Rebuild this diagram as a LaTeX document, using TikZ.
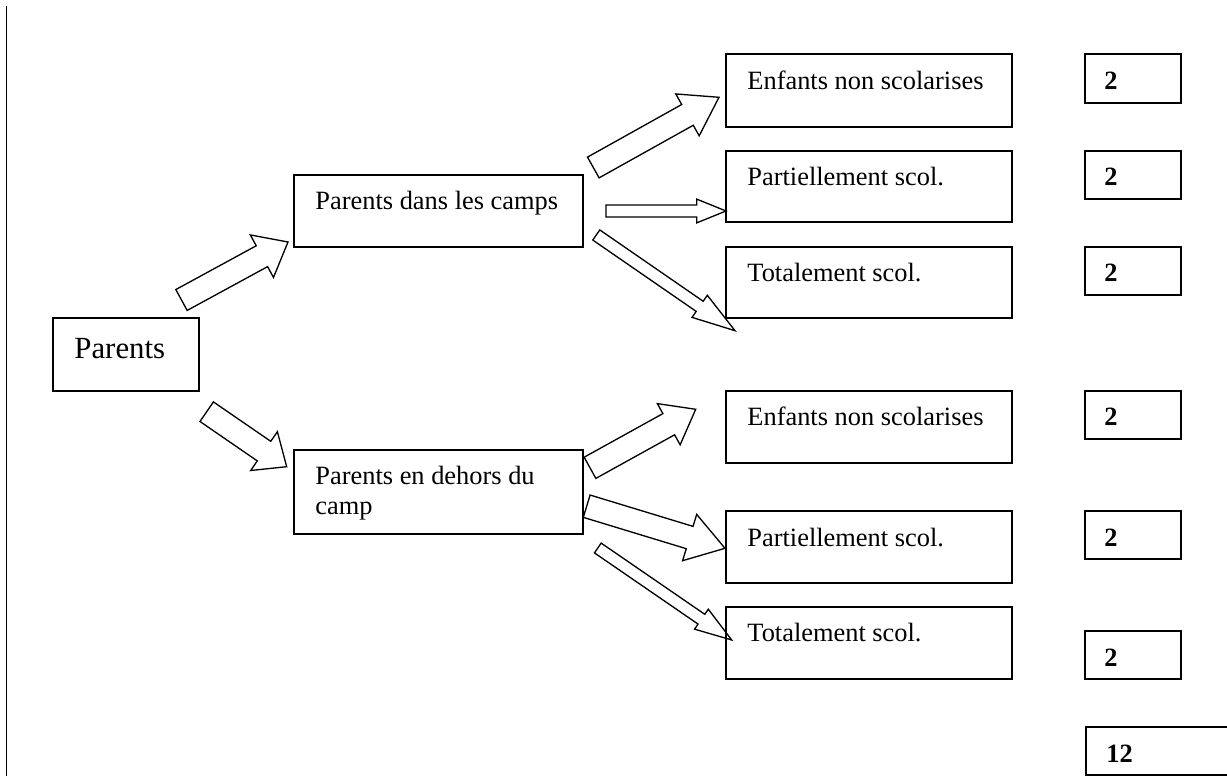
\documentclass[tikz,border=0pt]{standalone}
\usepackage{fontspec}
\setmainfont{Liberation Serif}
\usetikzlibrary{calc,fit}

% tail, tip, half shaft, half head, head length
\newcommand{\blockarrow}[5]{%
  \coordinate (hb) at ($(#2)!#5!(#1)$);
  \draw[arrowline] ($(#1)!#3!90:(#2)$) -- ($(hb)!#3!90:(#2)$) -- ($(hb)!#4!90:(#2)$) -- (#2)
    -- ($(hb)!#4!-90:(#2)$) -- ($(hb)!#3!-90:(#2)$) -- ($(#1)!#3!-90:(#2)$) -- cycle;
}

\begin{document}
\begin{tikzpicture}[x=0.4545pt, y=-0.4545pt,
    box/.style={draw, line width=0.9pt, inner sep=0pt},
    txt/.style={anchor=base west, inner sep=0pt, font=\fontsize{12}{14}\selectfont},
    num/.style={txt, font=\fontsize{12}{14}\selectfont\bfseries},
    arrowline/.style={line width=0.6pt, line join=miter}]
    \useasboundingbox (0,0) rectangle (1227,776);
    \draw[line width=0.9pt] (6.5,6) -- (6.5,780);

    \node[box, fit={(53,318) (199,391)}] (par) {};
    \node[txt, font=\fontsize{14}{17}\selectfont] (parT) at (74,359) {Parents};

    \node[box, fit={(294,175) (583,247)}] (camps) {};
    \node[txt] (campsT) at (315,210) {Parents dans les camps};
    \node[box, fit={(294,450) (583,534)}] (dehors) {};
    \node[txt] (dehorsT) at (315,485) {Parents en dehors du};
    \node[txt] (dehorsT2) at (315,515) {camp};

    \node[box, fit={(726,54) (1012,127)}] (enf1) {};
    \node[txt] at (747,90) {Enfants non scolarises};
    \node[box, fit={(726,151) (1012,222)}] (part1) {};
    \node[txt] at (747,186) {Partiellement scol.};
    \node[box, fit={(726,247) (1012,318)}] (tot1) {};
    \node[txt] at (747,282) {Totalement scol.};
    \node[box, fit={(726,391) (1012,463)}] (enf2) {};
    \node[txt] at (747,426) {Enfants non scolarises};
    \node[box, fit={(726,511) (1012,583)}] (part2) {};
    \node[txt] at (747,547) {Partiellement scol.};
    \node[box, fit={(726,607) (1012,679)}] (tot2) {};
    \node[txt] at (747,642) {Totalement scol.};

    \node[box, fit={(1085,54) (1181,103)}] (n1) {};
    \node[num] at (1104,90) {2};
    \node[box, fit={(1085,151) (1181,199)}] (n2) {};
    \node[num] at (1104,186) {2};
    \node[box, fit={(1085,247) (1181,295)}] (n3) {};
    \node[num] at (1104,282) {2};
    \node[box, fit={(1085,391) (1181,439)}] (n4) {};
    \node[num] at (1104,426) {2};
    \node[box, fit={(1085,511) (1181,559)}] (n5) {};
    \node[num] at (1104,547) {2};
    \node[box, fit={(1085,631) (1181,679)}] (n6) {};
    \node[num] at (1104,667) {2};
    \node[box, fit={(1086,727) (1245,775)}] (total) {};
    \node[num] at (1106,763) {12};

    \coordinate (t1) at (181.5,300);  \coordinate (h1) at (288,242);
    \coordinate (t2) at (206.7,411.7); \coordinate (h2) at (286.7,466.7);
    \coordinate (t3) at (593.3,167.5); \coordinate (h3) at (719,97.3);
    \coordinate (t4) at (606,211);     \coordinate (h4) at (726,211);
    \coordinate (t5) at (596.3,235);   \coordinate (h5) at (735,330.7);
    \coordinate (t6) at (590,467.8);   \coordinate (h6) at (695.7,409.3);
    \coordinate (t7) at (586.7,506.2); \coordinate (h7) at (725,548.3);
    \coordinate (t8) at (597.8,548);   \coordinate (h8) at (731.7,640);

    \blockarrow{t1}{h1}{5.4pt}{11pt}{13.5pt}
    \blockarrow{t2}{h2}{5.4pt}{10.7pt}{12.5pt}
    \blockarrow{t3}{h3}{5.4pt}{10.9pt}{16.4pt}
    \blockarrow{t4}{h4}{2.7pt}{5.4pt}{13.3pt}
    \blockarrow{t5}{h5}{2.8pt}{6.1pt}{19.5pt}
    \blockarrow{t6}{h6}{5.5pt}{10.7pt}{14pt}
    \blockarrow{t7}{h7}{5.3pt}{11pt}{16.8pt}
    \blockarrow{t8}{h8}{2.7pt}{5.5pt}{16.7pt}
\end{tikzpicture}
\end{document}
